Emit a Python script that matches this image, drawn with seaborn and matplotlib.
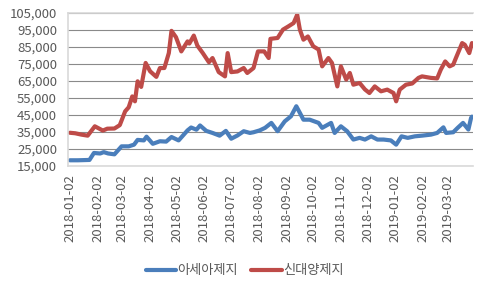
import numpy as np
import matplotlib
matplotlib.use('Agg')
import matplotlib.pyplot as plt
import matplotlib.dates as mdates
from matplotlib.ticker import FuncFormatter
import pandas as pd
import seaborn as sns

## datos
asia_dates = ['2018-01-02', '2018-01-11', '2018-01-24', '2018-01-29', '2018-02-05', '2018-02-09',
              '2018-02-14', '2018-02-21', '2018-03-01', '2018-03-09', '2018-03-15', '2018-03-19',
              '2018-03-26', '2018-03-29', '2018-04-05', '2018-04-13', '2018-04-20', '2018-04-26',
              '2018-05-04', '2018-05-14', '2018-05-18', '2018-05-24', '2018-05-28', '2018-06-04',
              '2018-06-11', '2018-06-19', '2018-06-26', '2018-07-02', '2018-07-09', '2018-07-16',
              '2018-07-23', '2018-07-27', '2018-08-03', '2018-08-09', '2018-08-16', '2018-08-23',
              '2018-08-31', '2018-09-07', '2018-09-13', '2018-09-17', '2018-09-21', '2018-09-28',
              '2018-10-08', '2018-10-12', '2018-10-22', '2018-10-26', '2018-11-02', '2018-11-09',
              '2018-11-16', '2018-11-23', '2018-11-29', '2018-12-06', '2018-12-13', '2018-12-20',
              '2018-12-28', '2019-01-03', '2019-01-09', '2019-01-16', '2019-01-24', '2019-02-01',
              '2019-02-11', '2019-02-18', '2019-02-25', '2019-02-28', '2019-03-08', '2019-03-13',
              '2019-03-19', '2019-03-25', '2019-03-28', '2019-03-29']
asia_vals = [18300, 18300, 18500, 22600, 22300, 23100,
             22300, 21800, 26500, 26500, 27500, 30300,
             30000, 32200, 28000, 29500, 29300, 32000,
             30000, 35900, 37600, 36300, 38800, 35600,
             34400, 32800, 35600, 31000, 32900, 35400,
             34400, 34800, 35900, 37400, 40300, 35400,
             41200, 44200, 50100, 46200, 42200, 42200,
             40300, 37400, 40300, 34400, 38300, 35400,
             30500, 31500, 30500, 32400, 30500, 30500,
             30000, 27500, 32400, 31500, 32400, 32800,
             33400, 34400, 37700, 34400, 34800, 37400,
             40300, 36400, 43200, 44000]

sdy_dates = ['2018-01-02', '2018-01-08', '2018-01-15', '2018-01-22', '2018-01-30', '2018-02-08',
             '2018-02-13', '2018-02-21', '2018-02-27', '2018-03-05', '2018-03-09', '2018-03-13',
             '2018-03-16', '2018-03-19', '2018-03-23', '2018-03-28', '2018-04-02', '2018-04-09',
             '2018-04-13', '2018-04-18', '2018-04-23', '2018-04-26', '2018-05-01', '2018-05-07',
             '2018-05-14', '2018-05-16', '2018-05-21', '2018-05-25', '2018-05-31', '2018-06-07',
             '2018-06-11', '2018-06-18', '2018-06-25', '2018-06-28', '2018-07-02', '2018-07-09',
             '2018-07-16', '2018-07-20', '2018-07-27', '2018-08-01', '2018-08-08', '2018-08-13',
             '2018-08-15', '2018-08-23', '2018-08-29', '2018-09-04', '2018-09-10', '2018-09-14',
             '2018-09-17', '2018-09-21', '2018-09-26', '2018-10-02', '2018-10-08', '2018-10-12',
             '2018-10-19', '2018-10-23', '2018-10-29', '2018-11-02', '2018-11-08', '2018-11-12',
             '2018-11-16', '2018-11-23', '2018-11-29', '2018-12-04', '2018-12-10', '2018-12-17',
             '2018-12-24', '2018-12-31', '2019-01-03', '2019-01-07', '2019-01-14', '2019-01-21',
             '2019-01-28', '2019-02-01', '2019-02-11', '2019-02-18', '2019-02-22', '2019-02-27',
             '2019-03-04', '2019-03-08', '2019-03-11', '2019-03-18', '2019-03-21', '2019-03-26',
             '2019-03-29']
sdy_vals = [34500, 34200, 33400, 32800, 38300, 35800,
            36900, 37000, 39000, 47100, 49500, 55900,
            53000, 64800, 61500, 75600, 70700, 67400,
            72600, 72600, 81400, 94500, 90800, 82400,
            88300, 87000, 91700, 85800, 81500, 76000,
            78500, 70200, 67700, 81400, 70200, 70600,
            72600, 69700, 72600, 82400, 82400, 78500,
            89800, 90300, 95200, 97100, 99100, 104000,
            95200, 89300, 91200, 85400, 83500, 73600,
            78500, 75600, 61800, 73600, 65800, 69700,
            62800, 63800, 60000, 57900, 61800, 58900,
            59900, 57900, 53000, 59900, 62800, 63500,
            66800, 67700, 66800, 66500, 71600, 76500,
            73600, 74600, 78500, 87300, 86300, 81400,
            87300]

names = ['아세아제지', '신대양제지']
colores = ['#4A7EBB', '#BE4B48']

df = pd.concat([
    pd.DataFrame({'fecha': pd.to_datetime(asia_dates), 'precio': asia_vals, 'empresa': names[0]}),
    pd.DataFrame({'fecha': pd.to_datetime(sdy_dates), 'precio': sdy_vals, 'empresa': names[1]}),
])

sns.set_style('white')
plt.rcParams['font.family'] = ['Noto Sans CJK KR', 'DejaVu Sans']

fig, ax = plt.subplots(figsize=(4.8, 2.89), dpi=100)
fig.subplots_adjust(left=0.142, right=0.986, top=0.955, bottom=0.426)

sns.lineplot(data=df, x='fecha', y='precio', hue='empresa', palette=colores,
             lw=3, ax=ax, legend=True)
for l in ax.lines:
    l.set_solid_capstyle('round')
    l.set_solid_joinstyle('round')

ax.set_ylim(15000, 105000)
ax.set_yticks(np.arange(15000, 105001, 10000))
ax.yaxis.set_major_formatter(FuncFormatter(lambda v, p: f'{int(v):,}'))

# ticks el dia 2 de cada mes
ticks = pd.date_range('2018-01-01', '2019-03-01', freq='MS') + pd.Timedelta(days=1)
ax.set_xticks(ticks)
ax.xaxis.set_major_formatter(mdates.DateFormatter('%Y-%m-%d'))
ax.set_xlim(pd.Timestamp('2018-01-02') - pd.Timedelta(days=1.9), pd.Timestamp('2019-03-30 12:00'))

ax.tick_params(axis='x', labelrotation=90, length=0, pad=6, labelsize=9.5, labelcolor='#595959')
ax.tick_params(axis='y', length=0, pad=8, labelsize=9.5, labelcolor='#595959')
ax.set_xlabel('')
ax.set_ylabel('')

ax.yaxis.grid(True, color='#8a8a8a', lw=0.8)
ax.xaxis.grid(False)
ax.set_axisbelow(True)
for s in ['top', 'left', 'bottom']:
    ax.spines[s].set_color('#d9d9d9')
    ax.spines[s].set_linewidth(1.2)
ax.spines['right'].set_visible(False)

h, lab = ax.get_legend_handles_labels()
ax.get_legend().remove()
fig.legend(h, lab, loc='center', bbox_to_anchor=(0.51, 0.063), ncol=2, frameon=False,
           fontsize=9.5, handlelength=2.3, handletextpad=0.1, columnspacing=1.0,
           labelcolor='#595959')

plt.savefig('out.png', dpi=100)
